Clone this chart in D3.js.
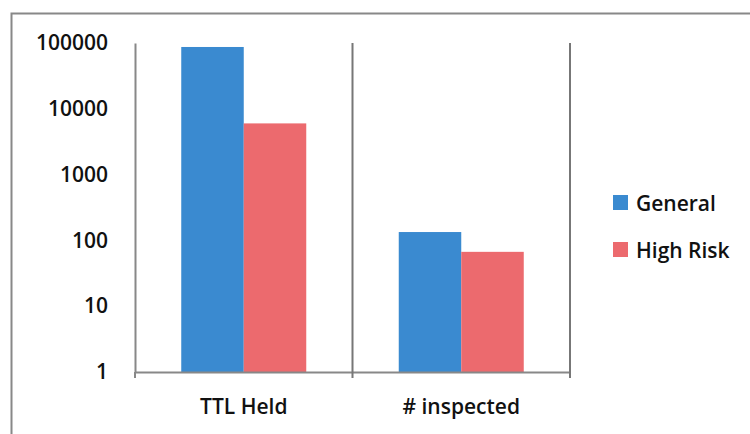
<!DOCTYPE html>
<html><head><meta charset="utf-8">
<script src="https://cdn.jsdelivr.net/npm/d3@7"></script>
<style>
html,body{margin:0;padding:0;background:#fff;}
svg{display:block;}
text{font-family:"Open Sans","DejaVu Sans",sans-serif;font-weight:600;fill:#111;}
</style></head>
<body>
<svg id="c" width="750" height="434"></svg>
<script>
const categories = ["TTL Held", "# inspected"];
const seriesNames = ["General", "High Risk"];
const generalValues = [87000, 134];
const highRiskValues = [6000, 67];
const tickValues = [1, 10, 100, 1000, 10000, 100000];
const colors = ["#3a8ad0", "#ec6a6e"];

(function () {
const svg = d3.select("#c");
const mLeft = 135, mRight = 570, mTop = 43, mBottom = 372;
const fs = 21;
const ff = "'Open Sans','DejaVu Sans',sans-serif";

// outer frame
svg.append("path").attr("d", "M11.5,434 L11.5,13.5 L750,13.5")
  .attr("fill", "none").attr("stroke", "#888").attr("stroke-width", 2);

const x = d3.scaleBand().domain(categories).range([mLeft, mRight]).paddingInner(0).paddingOuter(0);
const xs = d3.scaleBand().domain(seriesNames).range([0, x.bandwidth()]).paddingInner(0).paddingOuter(0.74);
const y = d3.scaleLog().domain([1, 100000]).range([mBottom, mTop]);

// bars
const data = categories.map((c, i) => ({cat: c, vals: [generalValues[i], highRiskValues[i]]}));
const g = svg.append("g");
data.forEach(d => {
  d.vals.forEach((v, j) => {
    g.append("rect")
      .attr("x", x(d.cat) + xs(seriesNames[j]))
      .attr("y", y(v))
      .attr("width", xs.bandwidth())
      .attr("height", y(1) - y(v))
      .attr("fill", colors[j]);
  });
});

// y axis
const yAxis = d3.axisLeft(y).tickValues(tickValues).tickFormat(d3.format("d")).tickSize(0).tickPadding(27);
const ya = svg.append("g").attr("transform", `translate(${mLeft},0)`).call(yAxis);
ya.select(".domain").attr("stroke", "#888").attr("stroke-width", 2);
ya.selectAll("text").attr("font-size", fs).style("font-family", ff).style("font-weight", 600).attr("fill", "#111");

// x axis
const xAxis = d3.axisBottom(x).tickSize(0).tickPadding(27);
const xa = svg.append("g").attr("transform", `translate(0,${mBottom})`).call(xAxis);
xa.select(".domain").attr("stroke", "#888").attr("stroke-width", 2);
xa.selectAll("text").attr("font-size", fs).style("font-family", ff).style("font-weight", 600).attr("fill", "#111");

// category separators
const seps = categories.map(c => x(c) + x.bandwidth());
svg.append("g").selectAll("line").data(seps).join("line")
  .attr("x1", d => d).attr("x2", d => d).attr("y1", mTop).attr("y2", mBottom + 6)
  .attr("stroke", "#777").attr("stroke-width", 2);
svg.append("line").attr("x1", mLeft).attr("x2", mLeft).attr("y1", mBottom).attr("y2", mBottom + 6)
  .attr("stroke", "#888").attr("stroke-width", 2);

// legend
const lg = svg.append("g").attr("transform", "translate(613,195)");
seriesNames.forEach((s, i) => {
  const row = lg.append("g").attr("transform", `translate(0,${i * 47})`);
  row.append("rect").attr("width", 15).attr("height", 15).attr("fill", colors[i]);
  row.append("text").attr("x", 23).attr("y", 8).attr("dy", "0.36em")
    .attr("font-size", fs).text(s);
});
})();
</script>
</body></html>
